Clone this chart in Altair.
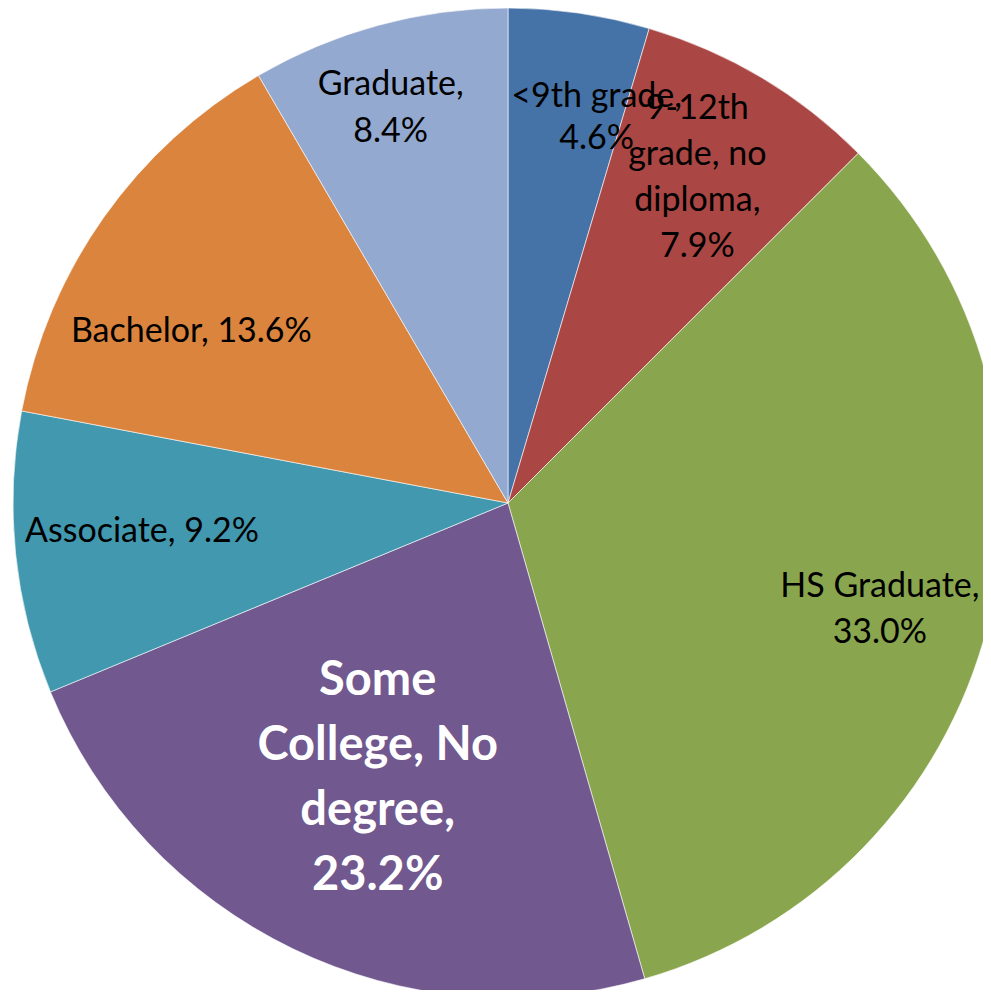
import altair as alt
import pandas as pd

categories = ["<9th grade", "9-12th grade, no diploma", "HS Graduate", "Some College, No degree",
              "Associate", "Bachelor", "Graduate"]
values = [4.6, 7.9, 33.0, 23.2, 9.2, 13.6, 8.4]
labels = ["<9th grade,\n4.6%", "9-12th\ngrade, no\ndiploma,\n7.9%", "HS Graduate,\n33.0%",
          "Some\nCollege, No\ndegree,\n23.2%", "Associate, 9.2%", "Bachelor, 13.6%", "Graduate,\n8.4%"]
colors = ["#4572A7", "#AA4643", "#89A54E", "#71588F", "#4198AF", "#DB843D", "#93A9CF"]

df = pd.DataFrame({
    "category": categories,
    "value": values,
    "label": labels,
    "idx": list(range(len(categories))),
})

CX, CY, R = 500, 495, 495

# label placement: radius along slice mid-angle, then small nudges (dx, dy), line height
label_layout = {
    "<9th grade": dict(radius=414, dx=29, dy=4, lineHeight=42, big=False),
    "9-12th grade, no diploma": dict(radius=436, dx=-34, dy=-20, lineHeight=46, big=False),
    "HS Graduate": dict(radius=381, dx=3, dy=-11, lineHeight=46, big=False),
    "Some College, No degree": dict(radius=217, dx=-36, dy=-17, lineHeight=65, big=True),
    "Associate": dict(radius=367, dx=-1, dy=-8, lineHeight=46, big=False),
    "Bachelor": dict(radius=357, dx=-25, dy=35, lineHeight=46, big=False),
    "Graduate": dict(radius=434, dx=-4, dy=1, lineHeight=47, big=False),
}

base = alt.Chart(df).encode(
    theta=alt.Theta("value:Q", stack=True),
    order=alt.Order("idx:Q"),
    x=alt.value(CX),
    y=alt.value(CY),
)

pie = base.mark_arc(radius=R, stroke="white", strokeWidth=0.6).encode(
    color=alt.Color("category:N", scale=alt.Scale(domain=categories, range=colors), legend=None),
)

layers = [pie]
for cat, spec in label_layout.items():
    if spec["big"]:
        style = dict(font="Lato", fontSize=47, fontWeight="bold", color="white")
    else:
        style = dict(font="Lato", fontSize=34, color="black")
    t = base.mark_text(radius=spec["radius"], dx=spec["dx"], dy=spec["dy"],
                       lineBreak="\n", lineHeight=spec["lineHeight"],
                       align="center", baseline="middle", **style).encode(
        text=alt.condition(alt.datum.category == cat, alt.Text("label:N"), alt.value("")),
    )
    layers.append(t)

chart = alt.layer(*layers).properties(
    width=975, height=982,
    autosize=alt.AutoSizeParams(type="none"),
    padding=0,
).configure_view(stroke=None)

chart.save("out.html", embed_options={"renderer": "svg", "actions": False})
